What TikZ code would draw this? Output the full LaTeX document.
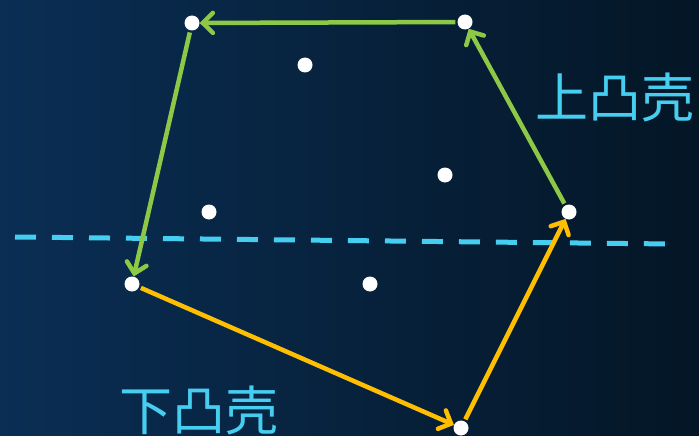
\documentclass[tikz,border=0pt]{standalone}
\usepackage{fontspec}
\newfontfamily\cjk{Noto Sans CJK SC}
\usetikzlibrary{arrows.meta}
\definecolor{bgl}{RGB}{10,46,84}
\definecolor{bgr}{RGB}{4,22,38}
\definecolor{hullg}{RGB}{141,200,70}
\definecolor{hully}{RGB}{255,190,0}
\definecolor{cyanl}{RGB}{70,206,240}
\tikzset{
  pt/.style={circle,fill=white,minimum size=15pt,inner sep=0pt},
  upper/.style={draw=hullg,line width=4.5pt,-{Straight Barb[length=10pt,width=20pt,line cap=round]}},
  lower/.style={draw=hully,line width=4.5pt,-{Straight Barb[length=10pt,width=20pt,line cap=round]}},
  lbl/.style={text=cyanl,font=\cjk\fontsize{53}{53}\selectfont,inner sep=0pt}
}
\begin{document}
\begin{tikzpicture}[x=1pt,y=-1pt]
\shade[left color=bgl,right color=bgr] (0,0) rectangle (699,436);
\useasboundingbox (0,0) rectangle (699,436);
\draw[cyanl,line width=5pt,dash pattern=on 21pt off 16pt] (15,237) -- (672,244);
\node[pt] (a) at (192,23) {};
\node[pt] (b) at (465,22) {};
\node[pt] (c) at (569,212) {};
\node[pt] (d) at (461,428) {};
\node[pt] (e) at (132,284) {};
\node[pt] (p1) at (305,65) {};
\node[pt] (p2) at (445,175) {};
\node[pt] (p3) at (209,212) {};
\node[pt] (p4) at (370,284) {};
\draw[upper,shorten <=2pt] (b) -- (a);
\draw[upper,shorten <=2pt] (a) -- (e);
\draw[upper,shorten <=2pt] (c) -- (b);
\draw[lower,shorten <=2pt] (e) -- (d);
\draw[lower,shorten <=2pt] (d) -- (c);
\node[lbl] (up) at (615,97) {上凸壳};
\node[lbl] (lo) at (199,410) {下凸壳};
\end{tikzpicture}
\end{document}
